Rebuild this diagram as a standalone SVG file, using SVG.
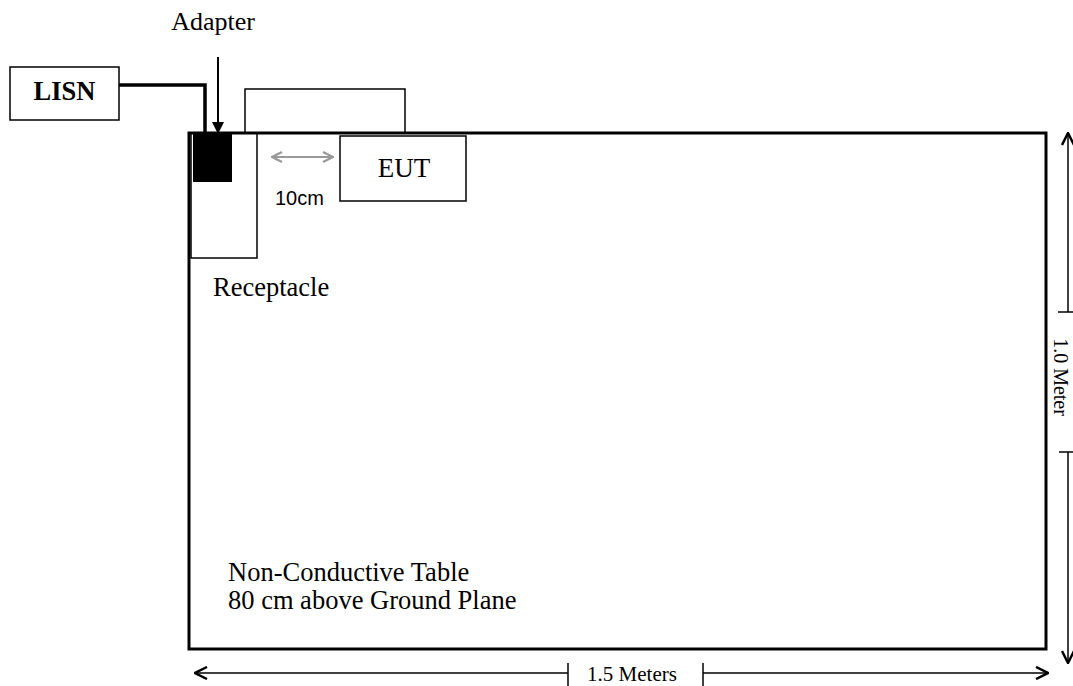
<svg xmlns="http://www.w3.org/2000/svg" width="1073" height="686" viewBox="0 0 1073 686">
<defs>
<style>
.t{font-family:"Liberation Serif","Times New Roman",serif;fill:#000}
.s{font-family:"Liberation Sans",Arial,sans-serif;fill:#000}
.thin{fill:none;stroke:#000;stroke-width:1.5}
.dim{fill:none;stroke:#000;stroke-width:1.5}
</style>
<marker id="ah" viewBox="0 0 12 12" refX="11" refY="6" markerWidth="12" markerHeight="13" markerUnits="userSpaceOnUse" orient="auto">
<path d="M0,0 L12,6 L0,12 Z" fill="#000"/>
</marker>
<marker id="open" viewBox="0 0 14 14" refX="13" refY="7" markerWidth="14" markerHeight="14" markerUnits="userSpaceOnUse" orient="auto-start-reverse">
<path d="M1,1 L13,7 L1,13" fill="none" stroke="#000" stroke-width="2.5"/>
</marker>
<marker id="gray" viewBox="0 0 12 12" refX="11" refY="6" markerWidth="12" markerHeight="12" markerUnits="userSpaceOnUse" orient="auto-start-reverse">
<path d="M1,1 L11,6 L1,11" fill="none" stroke="#999" stroke-width="2.2"/>
</marker>
</defs>
<rect width="1073" height="686" fill="#fff"/>

<g id="table">
<rect x="189" y="133" width="857" height="516" fill="none" stroke="#000" stroke-width="3"/>
<text class="t" x="228" y="581" font-size="26.5">Non-Conductive Table</text>
<text class="t" x="228" y="609" font-size="26.5">80 cm above Ground Plane</text>
</g>

<g id="lisn">
<rect x="10" y="67" width="109" height="53" class="thin"/>
<text class="t" x="64.5" y="100" font-size="26.5" font-weight="bold" text-anchor="middle">LISN</text>
</g>

<g id="eut-top">
<path d="M245,133 V89 H405 V133" class="thin"/>
</g>

<g id="receptacle">
<rect x="191" y="133" width="66" height="125" class="thin"/>
<text class="t" x="213" y="296" font-size="26.5">Receptacle</text>
</g>

<g id="adapter">
<rect x="193" y="133" width="39" height="49" fill="#000"/>
<text class="t" x="213" y="30" font-size="26" text-anchor="middle">Adapter</text>
</g>

<g id="eut">
<rect x="340" y="136" width="126" height="65" fill="#fff" stroke="#000" stroke-width="1.5"/>
<text class="t" x="404" y="177" font-size="27" text-anchor="middle">EUT</text>
</g>

<g id="connectors">
<path d="M119,85 H205 V133" fill="none" stroke="#000" stroke-width="3.5"/>
<line x1="218" y1="57" x2="218" y2="133" stroke="#000" stroke-width="2" marker-end="url(#ah)"/>
<line x1="272" y1="157" x2="333" y2="157" stroke="#999" stroke-width="2.2" marker-start="url(#gray)" marker-end="url(#gray)"/>
<text class="s" x="275" y="205" font-size="20">10cm</text>

<line x1="195" y1="673" x2="568" y2="673" class="dim" marker-start="url(#open)"/>
<line x1="568" y1="663" x2="568" y2="686" class="dim"/>
<line x1="703" y1="673" x2="1048" y2="673" class="dim" marker-end="url(#open)"/>
<line x1="703" y1="663" x2="703" y2="686" class="dim"/>
<text class="t" x="632" y="681" font-size="21" text-anchor="middle">1.5 Meters</text>

<line x1="1068" y1="133" x2="1068" y2="312" class="dim" marker-start="url(#open)"/>
<line x1="1058" y1="312" x2="1073" y2="312" class="dim"/>
<line x1="1068" y1="452" x2="1068" y2="663" class="dim" marker-end="url(#open)"/>
<line x1="1059" y1="452" x2="1073" y2="452" class="dim"/>
<text class="t" font-size="20" text-anchor="middle" transform="translate(1054,377) rotate(90)">1.0 Meter</text>
</g>
</svg>
